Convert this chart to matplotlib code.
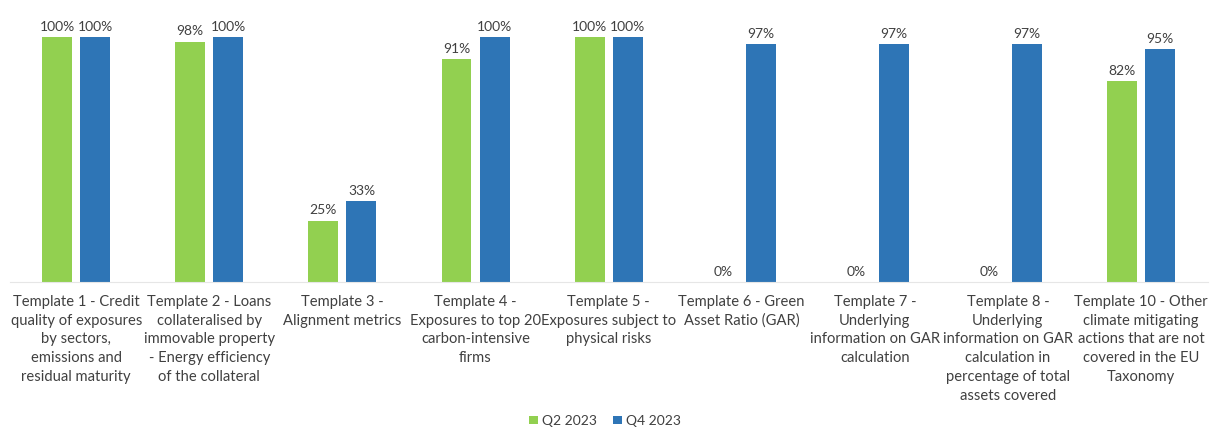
import numpy as np
import matplotlib.pyplot as plt

plt.rcParams['font.family'] = ['Lato', 'DejaVu Sans']

categories = [
    "Template 1 - Credit\nquality of exposures\nby sectors,\nemissions and\nresidual maturity",
    "Template 2 - Loans\ncollateralised by\nimmovable property\n- Energy efficiency\nof the collateral",
    "Template 3 -\nAlignment metrics",
    "Template 4 -\nExposures to top 20\ncarbon-intensive\nfirms",
    "Template 5 -\nExposures subject to\nphysical risks",
    "Template 6 - Green\nAsset Ratio (GAR)",
    "Template 7 -\nUnderlying\ninformation on GAR\ncalculation",
    "Template 8 -\nUnderlying\ninformation on GAR\ncalculation in\npercentage of total\nassets covered",
    "Template 10 - Other\nclimate mitigating\nactions that are not\ncovered in the EU\nTaxonomy",
]
q2_2023 = [100, 98, 25, 91, 100, 0, 0, 0, 82]
q4_2023 = [100, 100, 33, 100, 100, 97, 97, 97, 95]

green = "#92D050"
blue = "#2E75B6"

fig = plt.figure(figsize=(12.1, 4.3), dpi=100)
ax = fig.add_axes([0.008, 0.344, 0.99, 0.6])

x = np.arange(len(categories))
w = 0.225
off = 0.143
b1 = ax.bar(x - off, q2_2023, w, color=green, label="Q2 2023")
b2 = ax.bar(x + off, q4_2023, w, color=blue, label="Q4 2023")

for bars, vals in ((b1, q2_2023), (b2, q4_2023)):
    for r, v in zip(bars, vals):
        ax.text(r.get_x() + r.get_width() / 2, v + 1.8, f"{v}%", ha="center",
                va="bottom", fontsize=10, color="#404040")

ax.set_xlim(-0.5, len(categories) - 0.5)
ax.set_ylim(0, 100 / 0.95)
ax.set_yticks([])
ax.set_xticks(x)
ax.set_xticklabels(categories, fontsize=10.6, color="#404040", linespacing=1.45)
ax.tick_params(axis="x", length=0, pad=9)
for s in ["top", "right", "left"]:
    ax.spines[s].set_visible(False)
ax.spines["bottom"].set_color("#E6E6E6")

fig.legend(loc="lower center", bbox_to_anchor=(0.5, -0.022), ncol=2, frameon=False,
           fontsize=10, handlelength=0.6, handleheight=0.6, handletextpad=0.3,
           columnspacing=1.2, labelcolor="#404040")

fig.savefig("out.png", dpi=100)
